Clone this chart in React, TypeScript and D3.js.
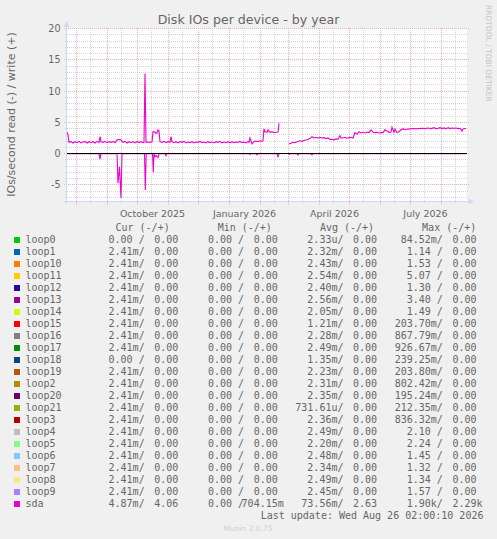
import * as d3 from 'd3'

const W = 497
const H = 539

const title = 'Disk IOs per device - by year'
const yLabel = 'IOs/second read (-) / write (+)'
const lastUpdate = 'Last update: Wed Aug 26 02:00:10 2026'
const watermark = 'RRDTOOL / TOBI OETIKER'
const footer = 'Munin 2.0.75'

// 400 day window ending at last update
const t0 = new Date(Date.UTC(2025, 6, 22, 12))
const spanDays = 400
const t1 = d3.utcDay.offset(t0, spanDays)

const yMajor = [-5, 0, 5, 10, 15, 20]
const labelMonths = ['2025-10-01', '2026-01-01', '2026-04-01', '2026-07-01']

// sda IOs/s, [day since start, value]; null = no data
const sdaWrite: [number, number | null][] = [
  [0, 3.4], [1, 3.0], [2, 1.8], [4, 1.95], [6, 1.7], [8, 1.9], [10, 1.75], [12, 1.95], [14, 1.7], [16, 1.85],
  [18, 1.95], [20, 1.7], [22, 1.9], [24, 1.75], [26, 1.9], [28, 1.7], [30, 1.95], [32, 1.75], [33, 2.7], [34, 1.9],
  [36, 1.8], [38, 1.95], [40, 1.75], [42, 1.9], [44, 1.8], [46, 1.95], [48, 1.75], [50, 2.2], [52, 2.25], [54, 2.2],
  [56, 1.8], [58, 1.95], [60, 1.7], [62, 1.9], [64, 1.75], [66, 1.9], [68, 1.7], [70, 1.9], [72, 1.8], [74, 1.9],
  [76, 1.75], [77, 1.8], [78, 12.8], [79, 1.8], [81, 1.85], [83, 1.8], [85, 1.85], [86, 3.5], [88, 3.45], [89, 3.2],
  [90, 3.3], [91, 3.8], [92, 3.6], [93, 1.9], [95, 1.8], [97, 1.95], [99, 1.75], [101, 1.9], [103, 1.8], [104, 2.7],
  [105, 1.9], [107, 1.75], [109, 1.9], [111, 1.7], [113, 1.9], [115, 1.8], [117, 1.95], [119, 1.7], [121, 1.85], [123, 1.75],
  [125, 1.9], [127, 1.7], [129, 1.85], [131, 1.8], [133, 1.95], [135, 1.75], [137, 1.85], [139, 1.7], [141, 1.9], [143, 1.75],
  [145, 1.85], [147, 1.7], [149, 1.9], [151, 1.8], [153, 1.95], [155, 1.7], [157, 1.85], [159, 1.75], [161, 1.9], [163, 1.7],
  [165, 1.9], [167, 1.75], [169, 1.85], [171, 1.8], [173, 1.95], [175, 1.75], [177, 1.85], [179, 1.7], [181, 1.9], [182, 1.8],
  [183, 2.5], [185, 1.55], [187, 1.95], [189, 2.0], [191, 1.9], [193, 2.05], [195, 1.95], [196, 2.1], [197, 3.95], [198, 3.5],
  [200, 3.4], [201, 3.8], [203, 3.4], [205, 3.5], [207, 3.35], [209, 3.4], [211, 3.45], [212, 4.85], [213, null],
  [222, 1.55], [224, 1.65], [226, 1.8], [228, 1.75], [230, 1.9], [233, 2.05], [235, 1.95], [237, 2.1], [240, 2.2], [243, 2.4],
  [245, 2.7], [247, 2.5], [249, 2.6], [251, 2.45], [253, 2.6], [255, 2.5], [257, 2.55], [259, 2.4], [261, 2.5], [263, 2.25],
  [265, 2.3], [267, 2.2], [269, 2.35], [271, 2.3], [273, 2.85], [274, 2.5], [276, 2.5], [278, 2.6], [280, 2.45], [282, 2.55],
  [284, 2.6], [286, 2.5], [288, 3.35], [290, 3.1], [292, 3.5], [294, 3.3], [296, 3.4], [298, 3.3], [300, 3.45], [302, 3.35],
  [304, 3.8], [306, 3.4], [308, 3.35], [310, 3.4], [312, 3.3], [314, 3.35], [316, 3.35], [318, 3.8], [320, 3.6], [322, 3.4],
  [324, 3.45], [325, 4.2], [327, 3.4], [328, 3.9], [330, 3.35], [332, 3.5], [334, 3.8], [336, 3.95], [338, 3.85], [340, 3.9],
  [343, 3.95], [346, 4.0], [349, 3.95], [352, 4.0], [355, 4.05], [358, 4.0], [361, 4.1], [364, 4.0], [367, 4.15], [369, 4.0],
  [371, 4.05], [373, 4.15], [375, 4.0], [377, 4.1], [379, 3.95], [381, 4.15], [383, 4.0], [385, 4.1], [387, 4.05], [389, 4.1],
  [391, 4.0], [393, 4.05], [395, 3.6], [396, 3.95], [398, 4.0], [399, 4.0],
]

// read side, drawn below zero
const sdaRead: [number, number | null][] = [
  [0, 0], [32, 0], [33, 0.9], [34, 0], [50, 0], [51, 4.75], [52.5, 2.1], [54, 7.1], [55, 0], [77.5, 0],
  [78.3, 5.8], [79.2, 0], [85.5, 0], [86.3, 3.0], [87, 0], [88, 0.5], [89, 0.3], [90, 0.5], [91, 0.65], [92, 0],
  [98, 0], [99, 0.35], [100, 0], [182, 0], [183, 0.15], [184, 0], [189, 0], [190, 0.2], [191, 0], [210, 0],
  [211, 0.5], [212, 0], [213, null], [222, 0.2], [223, 0], [230, 0], [231, 0.2], [232, 0], [244, 0], [245, 0.2],
  [246, 0], [399, 0],
]

// legend table
const devices = ['loop0', 'loop1', 'loop10', 'loop11', 'loop12', 'loop13', 'loop14', 'loop15', 'loop16', 'loop17', 'loop18', 'loop19',
  'loop2', 'loop20', 'loop21', 'loop3', 'loop4', 'loop5', 'loop6', 'loop7', 'loop8', 'loop9', 'sda']
const colors = ['#00CC00', '#0066B3', '#FF8000', '#FFCC00', '#330099', '#990099', '#CCFF00', '#FF0000', '#808080', '#008F00', '#00487D', '#B35A00',
  '#B38F00', '#6B006B', '#8FB300', '#B30000', '#BEBEBE', '#80FF80', '#80C9FF', '#FFC080', '#FFE680', '#AA80FF', '#EE00CC']
const m = 1e-3
const u = 1e-6
const curRead = [0, 2.41 * m, 2.41 * m, 2.41 * m, 2.41 * m, 2.41 * m, 2.41 * m, 2.41 * m, 2.41 * m, 2.41 * m, 0, 2.41 * m,
  2.41 * m, 2.41 * m, 2.41 * m, 2.41 * m, 2.41 * m, 2.41 * m, 2.41 * m, 2.41 * m, 2.41 * m, 2.41 * m, 4.87 * m]
const curWrite = [0, 0, 0, 0, 0, 0, 0, 0, 0, 0, 0, 0, 0, 0, 0, 0, 0, 0, 0, 0, 0, 0, 4.06]
const minRead = [0, 0, 0, 0, 0, 0, 0, 0, 0, 0, 0, 0, 0, 0, 0, 0, 0, 0, 0, 0, 0, 0, 0]
const minWrite = [0, 0, 0, 0, 0, 0, 0, 0, 0, 0, 0, 0, 0, 0, 0, 0, 0, 0, 0, 0, 0, 0, 704.15 * m]
const avgRead = [2.33 * u, 2.32 * m, 2.43 * m, 2.54 * m, 2.40 * m, 2.56 * m, 2.05 * m, 1.21 * m, 2.28 * m, 2.49 * m, 1.35 * m, 2.23 * m,
  2.31 * m, 2.35 * m, 731.61 * u, 2.36 * m, 2.49 * m, 2.20 * m, 2.48 * m, 2.34 * m, 2.49 * m, 2.45 * m, 73.56 * m]
const avgWrite = [0, 0, 0, 0, 0, 0, 0, 0, 0, 0, 0, 0, 0, 0, 0, 0, 0, 0, 0, 0, 0, 0, 2.63]
const maxRead = [84.52 * m, 1.14, 1.53, 5.07, 1.30, 3.40, 1.49, 203.70 * m, 867.79 * m, 926.67 * m, 239.25 * m, 203.80 * m,
  802.42 * m, 195.24 * m, 212.35 * m, 836.32 * m, 2.10, 2.24, 1.45, 1.32, 1.34, 1.57, 1900]
const maxWrite = [0, 0, 0, 0, 0, 0, 0, 0, 0, 0, 0, 0, 0, 0, 0, 0, 0, 0, 0, 0, 0, 0, 2290]
const columns = ['Cur', 'Min', 'Avg', 'Max']

// rrdtool style "%6.2lf%s"
function si(v: number): string {
  if (v === 0) return '0.00'.padStart(6) + ' '
  const units = ['u', 'm', ' ', 'k', 'M']
  let e = Math.floor(Math.log10(Math.abs(v)) / 3)
  e = Math.max(-2, Math.min(2, e))
  const n = v / Math.pow(1000, e)
  return n.toFixed(2).padStart(6) + units[e + 2]
}

const FONT = 'DejaVu Sans, sans-serif'
const MONO = 'DejaVu Sans Mono, monospace'
const TXT = '#666666'
const AXIS = '#CFD6F8'
const MGRID = '#F0B0B0'
const GRID = '#D6D6D6'

const crisp = (v: number) => Math.round(v - 0.5) + 0.5

export default function App() {
  const left = 67
  const right = 467
  const top = 28
  const bottom = 202

  const x = d3.scaleUtc().domain([t0, t1]).range([left, right])
  const y = d3.scaleLinear().domain([-7.7, 20]).range([201.75, 28.5])
  const dayX = (d: number) => x(new Date(t0.getTime() + d * 864e5))

  const writeLine = d3.line<[number, number | null]>()
    .defined(d => d[1] != null)
    .x(d => dayX(d[0]))
    .y(d => y(d[1] as number))
  const readLine = d3.line<[number, number | null]>()
    .defined(d => d[1] != null)
    .x(d => dayX(d[0]))
    .y(d => y(-(d[1] as number)))

  const minorY = d3.range(-7, 20).filter(v => !yMajor.includes(v))
  const months = d3.utcMonth.range(t0, t1)
  const midMonths = months.map(d => d3.utcDay.offset(d, 14)).filter(d => d < t1)
  const fmt = d3.utcFormat('%B %Y')

  const rowY = (i: number) => 243 + 12 * i
  const readX = (c: number) => 96.5 + 99.4 * c
  const writeX = (c: number) => 142.2 + 99.4 * c
  const stats = [[curRead, curWrite], [minRead, minWrite], [avgRead, avgWrite], [maxRead, maxWrite]]

  return (
    <svg width={W} height={H} style={{ position: 'absolute', left: 0, top: 0, display: 'block' }}>
      <rect x={0} y={0} width={W} height={H} fill="#F0F0F0" />
      <rect x={left} y={top} width={right - left} height={bottom - top} fill="#FFFFFF" />

      {/* minor grid */}
      {minorY.map(v => (
        <line key={'my' + v} x1={left - 2} x2={right + 2} y1={crisp(y(v))} y2={crisp(y(v))}
          stroke={GRID} strokeDasharray="1 1" />
      ))}
      {midMonths.map(d => (
        <line key={'mx' + d.getTime()} x1={crisp(x(d))} x2={crisp(x(d))} y1={top} y2={bottom + 2}
          stroke={GRID} strokeDasharray="1 1" />
      ))}
      {/* major grid */}
      {yMajor.map(v => (
        <line key={'My' + v} x1={left - 3} x2={right + 2} y1={crisp(y(v))} y2={crisp(y(v))}
          stroke={MGRID} strokeDasharray="1 1" />
      ))}
      {months.map(d => (
        <line key={'Mx' + d.getTime()} x1={crisp(x(d))} x2={crisp(x(d))} y1={top} y2={bottom + 3}
          stroke={MGRID} strokeDasharray="1 1" />
      ))}

      {/* sda */}
      <path d={writeLine(sdaWrite) ?? ''} fill="none" stroke={colors[22]} strokeWidth={1.1} />
      <path d={readLine(sdaRead) ?? ''} fill="none" stroke={colors[22]} strokeWidth={1.1} />
      <line x1={left} x2={right} y1={crisp(y(0))} y2={crisp(y(0))} stroke="#000000" />

      {/* axes */}
      <line x1={left - 0.5} x2={left - 0.5} y1={bottom + 2} y2={top - 4} stroke={AXIS} />
      <line x1={left - 3} x2={right + 2} y1={bottom - 0.5} y2={bottom - 0.5} stroke={AXIS} />
      <path d={`M${left - 3.5},${top - 1}L${left + 2.5},${top - 1}L${left - 0.5},${top - 7}Z`} fill={AXIS} />
      <path d={`M${right + 1.5},${bottom - 3.5}L${right + 1.5},${bottom + 2.5}L${right + 7},${bottom - 0.5}Z`} fill={AXIS} />

      {/* y tick labels */}
      {yMajor.map(v => (
        <text key={'yl' + v} x={60.5} y={crisp(y(v)) + 3.5} textAnchor="end" fontFamily={FONT} fontSize={9.6} fill={TXT}>{v}</text>
      ))}
      {/* x labels, centered mid-month */}
      {labelMonths.map(s => {
        const d = new Date(s + 'T00:00:00Z')
        return (
          <text key={s} x={x(d3.utcDay.offset(d, 15))} y={216.5} textAnchor="middle" fontFamily={FONT} fontSize={9.5} fill={TXT}>{fmt(d)}</text>
        )
      })}

      <text x={248.5} y={23.5} textAnchor="middle" fontFamily={FONT} fontSize={12.6} fill={TXT}>{title}</text>
      <text transform="translate(15,114.5) rotate(-90)" textAnchor="middle" fontFamily={FONT} fontSize={11} fill={TXT}>{yLabel}</text>
      <text transform="translate(485.5,5) rotate(90)" fontFamily={FONT} fontSize={7.5} fill="#C4C4C4">{watermark}</text>

      {/* legend */}
      {columns.map((c, k) => (
        <text key={c} x={115.5 + 102.2 * k} y={231} fontFamily={MONO} fontSize={10} fill={TXT} xmlSpace="preserve">{c + ' (-/+)'}</text>
      ))}
      {devices.map((name, i) => (
        <g key={name}>
          <rect x={14} y={rowY(i) - 6} width={6} height={6} fill={colors[i]} />
          <text x={25.5} y={rowY(i)} fontFamily={MONO} fontSize={10} fill={TXT}>{name}</text>
          {stats.map(([r, w], k) => (
            <g key={k}>
              <text x={readX(k)} y={rowY(i)} fontFamily={MONO} fontSize={10} fill={TXT} xmlSpace="preserve" style={{ whiteSpace: 'pre' }}>{si(r[i]) + '/'}</text>
              <text x={writeX(k)} y={rowY(i)} fontFamily={MONO} fontSize={10} fill={TXT} xmlSpace="preserve" style={{ whiteSpace: 'pre' }}>{si(w[i])}</text>
            </g>
          ))}
        </g>
      ))}
      <text x={260.7} y={rowY(devices.length)} fontFamily={MONO} fontSize={10} fill={TXT} xmlSpace="preserve">{lastUpdate}</text>
      <text x={248} y={531} textAnchor="middle" fontFamily={FONT} fontSize={7.5} fill="#D0D0D0">{footer}</text>
    </svg>
  )
}
